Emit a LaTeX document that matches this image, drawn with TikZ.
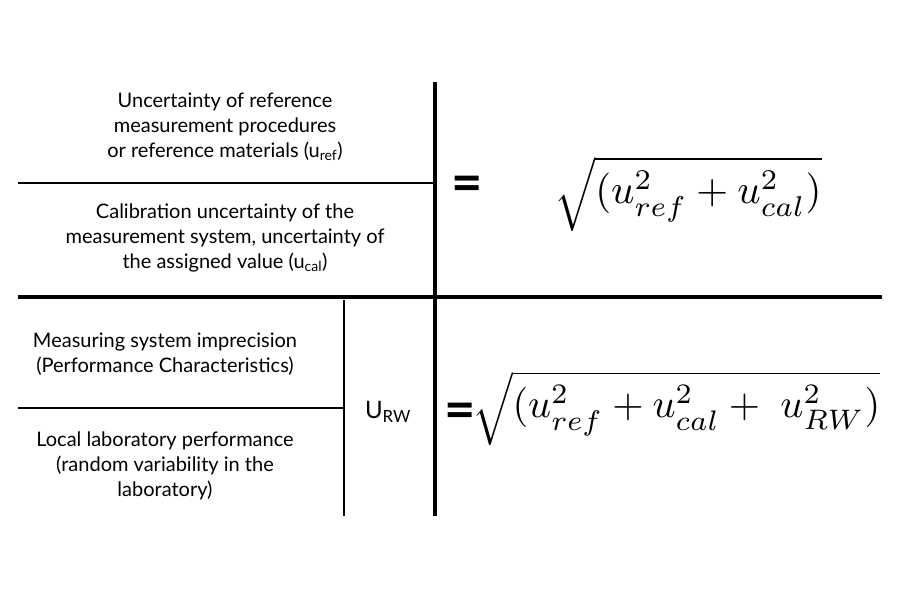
\documentclass[tikz,border=0pt]{standalone}
\usepackage{fontspec}
\setmainfont{Lato}
\usetikzlibrary{positioning}

\begin{document}
\begin{tikzpicture}[
  x=1pt,y=-1pt,
  txt/.style={align=center,font=\fontsize{20}{25}\selectfont},
  eqn/.style={inner sep=0pt},
  eqsign/.style={inner sep=0pt,font=\fontsize{54}{54}\selectfont\bfseries},
  rule/.style={line width=2pt},
  heavy/.style={line width=4pt}
]
  \useasboundingbox (0,0) rectangle (900,600);
  % grid of the table
  \coordinate (tl) at (18,183);
  \coordinate (tr) at (435,183);
  \coordinate (ml) at (18,297);
  \coordinate (mr) at (882,297);
  \coordinate (bl) at (18,408);
  \coordinate (br) at (344,408);
  \coordinate (vtop) at (435,82);
  \coordinate (vbot) at (435,516);
  \coordinate (stop) at (344,300);
  \coordinate (sbot) at (344,516);
  \draw[heavy] (vtop) -- (vbot);
  \draw[heavy] (ml) -- (mr);
  \draw[rule] (tl) -- (tr);
  \draw[rule] (stop) -- (sbot);
  \draw[rule] (bl) -- (br);
  % left column
  \node[txt] (uref) at (225,127) {Uncertainty of reference\\measurement procedures\\or reference materials (u\textsubscript{ref})};
  \node[txt] (ucal) at (225,238) {Calibration uncertainty of the\\measurement system, uncertainty of\\the assigned value (u\textsubscript{cal})};
  \node[txt] (imprec) at (165,354) {Measuring system imprecision\\(Performance Characteristics)};
  \node[txt] (local) at (165,466) {Local laboratory performance\\(random variability in the\\laboratory)};
  \node[font=\fontsize{24}{28}\selectfont] (urw) at (388,412) {U\textsubscript{RW}};
  % formulas
  \node[eqsign] (eqa) at (467,189) {=};
  \node[eqn] (fa) at (688,194) {\resizebox{267pt}{!}{$\sqrt{(u_{ref}^2+u_{cal}^2)}$}};
  \node[eqsign] (eqb) at (460,416) {=};
  \node[eqn,anchor=west] (fb) at (472,408) {\resizebox{408pt}{!}{$\sqrt{(u_{ref}^2+u_{cal}^2+\;u_{RW}^2)}$}};
\end{tikzpicture}
\end{document}
